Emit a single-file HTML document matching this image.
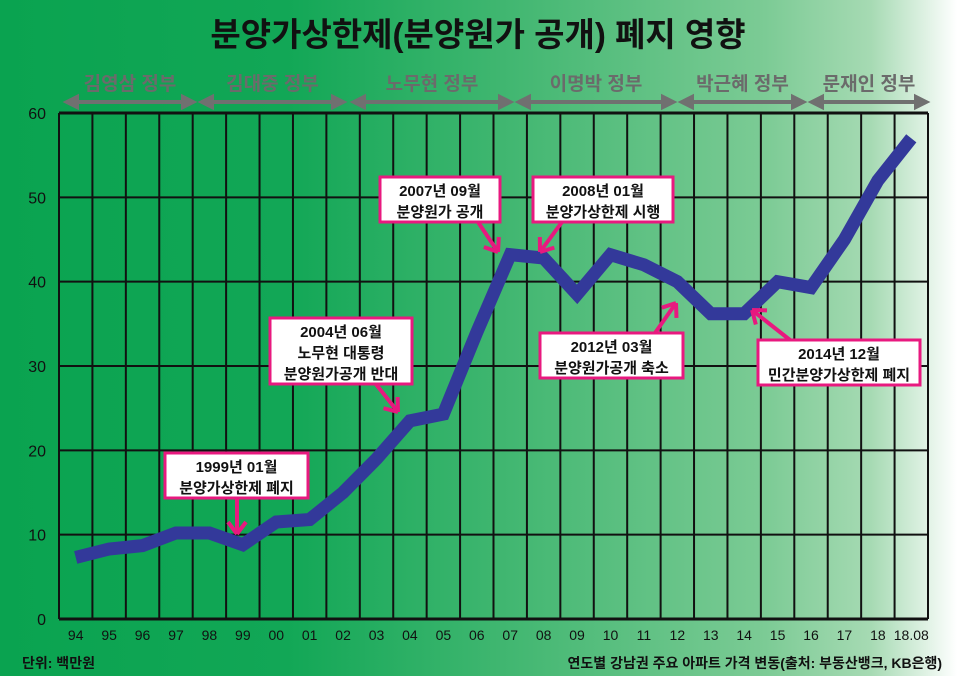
<!DOCTYPE html>
<html><head><meta charset="utf-8"><style>
body{margin:0;width:957px;height:676px;overflow:hidden;font-family:"Liberation Sans","Noto Sans CJK KR",sans-serif;}
#bg{position:absolute;left:0;top:0;width:957px;height:676px;background:linear-gradient(90deg,#0aa350 0%,#12a756 30%,#45b873 55%,#7ccb95 80%,#a6dab3 91%,#ffffff 100%);}
svg{position:absolute;left:0;top:0}
</style></head><body>
<div id="bg"></div>
<svg id="c" width="957" height="676"></svg>
<script>
const categories=["94","95","96","97","98","99","00","01","02","03","04","05","06","07","08","09","10","11","12","13","14","15","16","17","18","18.08"];
const values=[7.3,8.3,8.7,10.2,10.2,8.8,11.5,11.8,15,19,23.5,24.3,34,43.2,42.8,38.5,43.2,42,40,36.2,36.2,40,39.3,45,52,57];
const yTicks=[0,10,20,30,40,50,60];
const govs=[["김영삼 정부",65,195],["김대중 정부",200,345],["노무현 정부",352,512],["이명박 정부",517,675],["박근혜 정부",680,805],["문재인 정부",810,928]];
const L=59,R=928,T=113,B=619;
const colW=(R-L)/categories.length;
const x=i=>L+colW*(i+0.5);
const y=v=>B-(v/60)*(B-T);
const svg=document.getElementById('c');
const NS="http://www.w3.org/2000/svg";
function mk(t,a,p){const e=document.createElementNS(NS,t);for(const k in a)e.setAttribute(k,a[k]);(p||svg).appendChild(e);return e;}
let t=mk('text',{x:478,y:46,'text-anchor':'middle','font-size':33,'font-weight':'bold',fill:'#111'});t.textContent='분양가상한제(분양원가 공개) 폐지 영향';

govs.forEach(g=>{
 let tx=mk('text',{x:(g[1]+g[2])/2,y:90,'text-anchor':'middle','font-size':19,'font-weight':'bold',fill:'#6b6b6b'});tx.textContent=g[0];
 
 
 let a=mk('path',{d:`M${g[1]+12} 102 H${g[2]-12} M${g[1]+2} 102 l10 -5 v10 z M${g[2]-2} 102 l-10 -5 v10 z`,stroke:'#707070','stroke-width':4,fill:'#707070'});
 
 
});
for(let i=0;i<=categories.length;i++){let l=mk('line',{x1:L+colW*i,x2:L+colW*i,y1:T,y2:B,stroke:'#111','stroke-width':2});}
yTicks.forEach(v=>{
 let l=mk('line',{x1:L,x2:R,y1:y(v),y2:y(v),stroke:'#111','stroke-width':v===0||v===60?3:2});
 
 
 let tx=mk('text',{x:46,y:y(v)+6,'text-anchor':'end','font-size':16,fill:'#111'});tx.textContent=v;
 
 
});
categories.forEach((c,i)=>{let tx=mk('text',{x:x(i),y:640,'text-anchor':'middle','font-size':14,fill:'#111'});tx.textContent=c;
 
 });
let p=mk('polyline',{points:values.map((v,i)=>x(i)+','+y(v)).join(' '),fill:'none',stroke:'#33399a','stroke-width':13,'stroke-linejoin':'miter','stroke-linecap':'butt'});


const notes=[
 [380,177,120,["2007년 09월","분양원가 공개"],"M478 222 L498 252"],
 [533,177,140,["2008년 01월","분양가상한제 시행"],"M562 222 L540 252"],
 [270,318,142,["2004년 06월","노무현 대통령","분양원가공개 반대"],"M375 383 L398 412"],
 [165,453,143,["1999년 01월","분양가상한제 폐지"],"M237 498 L237 534"],
 [540,333,143,["2012년 03월","분양원가공개 축소"],"M655 333 L676 303"],
 [758,340,162,["2014년 12월","민간분양가상한제 폐지"],"M790 340 L752 310"]
];
notes.forEach(n=>{
 let g=mk('g',{});
 
 
 mk('path',{d:n[4],stroke:'#e8197f','stroke-width':4,fill:'none'},g);
 const pts=n[4].match(/-?\d+/g).map(Number);const ex=pts[2],ey=pts[3],dx=ex-pts[0],dy=ey-pts[1],len=Math.hypot(dx,dy),ux=dx/len,uy=dy/len;
 mk('path',{d:`M${ex} ${ey} L${ex-ux*12-uy*9} ${ey-uy*12+ux*9} M${ex} ${ey} L${ex-ux*12+uy*9} ${ey-uy*12-ux*9}`,stroke:'#e8197f','stroke-width':4,fill:'none'},g);
 const h=n[3].length*21+3;
 mk('rect',{x:n[0],y:n[1],width:n[2],height:h,fill:'#fff',stroke:'#e8197f','stroke-width':3},g);
 n[3].forEach((s,k)=>{let tx=mk('text',{x:n[0]+n[2]/2,y:n[1]+19+k*21,'text-anchor':'middle','font-size':15,'font-weight':'bold',fill:'#111'},g);tx.textContent=s;});
});
let u=mk('text',{x:22,y:668,'font-size':14,'font-weight':'bold',fill:'#111'});u.textContent='단위: 백만원';

let s=mk('text',{x:942,y:668,'text-anchor':'end','font-size':14,'font-weight':'bold',fill:'#111'});s.textContent='연도별 강남권 주요 아파트 가격 변동(출처: 부동산뱅크, KB은행)';

</script>
</body></html>
